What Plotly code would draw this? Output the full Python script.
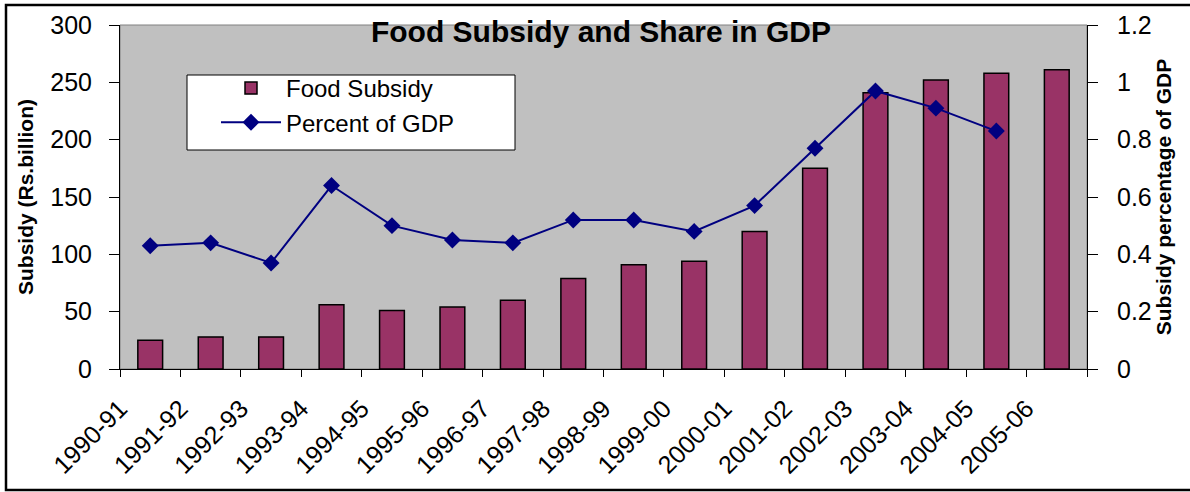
import plotly.graph_objects as go

categories = ["1990-91", "1991-92", "1992-93", "1993-94", "1994-95", "1995-96",
              "1996-97", "1997-98", "1998-99", "1999-00", "2000-01", "2001-02",
              "2002-03", "2003-04", "2004-05", "2005-06"]
food_subsidy = [25, 28, 28, 56, 51, 54, 60, 79, 91, 94, 120, 175, 241, 252, 258, 261]
percent_gdp = [0.43, 0.44, 0.37, 0.64, 0.50, 0.45, 0.44, 0.52, 0.52, 0.48, 0.57,
               0.77, 0.97, 0.91, 0.83]
left_ticks = [0, 50, 100, 150, 200, 250, 300]
right_ticks = [0, 0.2, 0.4, 0.6, 0.8, 1.0, 1.2]
right_tick_text = ["0", "0.2", "0.4", "0.6", "0.8", "1", "1.2"]

FONT = "Liberation Sans, Arial, sans-serif"
n = len(categories)
pos = list(range(n))
# category labels sit on the category boundaries (as in the original chart)
boundary_vals = [i - 0.5 for i in range(n + 1)]
boundary_text = categories + [""]

fig = go.Figure()
fig.add_trace(go.Bar(
    x=pos, y=food_subsidy, name="Food Subsidy", width=0.41,
    marker=dict(color="#993366", line=dict(color="black", width=1.5)),
    legendgroup="a", yaxis="y"))
fig.add_trace(go.Scatter(
    x=pos[:len(percent_gdp)], y=percent_gdp, name="Percent of GDP",
    mode="lines+markers", line=dict(color="#000080", width=2),
    marker=dict(symbol="diamond", size=13, color="#000080"),
    legendgroup="b", yaxis="y2"))

PW, PH = 967, 344  # plot area size in px
L, T = 120, 25
xr = [-0.5, n - 0.5]
fig.update_layout(
    width=1190, height=492, autosize=False,
    margin=dict(l=L, r=1190 - L - PW, t=T, b=492 - T - PH, pad=0),
    paper_bgcolor="white", plot_bgcolor="#c0c0c0",
    font=dict(family=FONT, color="black"),
    title=dict(text="<b>Food Subsidy and Share in GDP</b>", x=601 / 1190, xanchor="center",
               y=1 - 31 / 492, yanchor="middle", font=dict(size=30, family=FONT)),
    showlegend=True,
    legend=dict(x=(216 - L) / PW, y=(T + PH - 66) / PH, xanchor="left", yanchor="top",
                bgcolor="rgba(0,0,0,0)", borderwidth=0, font=dict(size=24, family=FONT),
                itemwidth=60, tracegroupgap=15, traceorder="normal"),
    xaxis=dict(range=xr, tickmode="array", tickvals=boundary_vals, ticktext=boundary_text,
               tickangle=-45, ticks="outside", ticklen=7, tickcolor="black", tickwidth=1,
               showline=True, linecolor="black", linewidth=1, showgrid=False, zeroline=False,
               tickfont=dict(size=25, family=FONT), ticklabelstandoff=7, automargin=False),
    xaxis2=dict(range=xr, overlaying="x", anchor="y", side="bottom", tickmode="array",
                tickvals=boundary_vals, ticks="inside", ticklen=7, tickcolor="black",
                showticklabels=False, showline=False, showgrid=False, zeroline=False),
    yaxis=dict(range=[0, 300], tickmode="array", tickvals=left_ticks, ticks="outside",
               ticklen=10, tickcolor="black", showline=True, linecolor="black", linewidth=1,
               showgrid=False, zeroline=False, tickfont=dict(size=25, family=FONT),
               ticklabelstandoff=12, automargin=False,
               title=dict(text="<b>Subsidy (Rs.billion)</b>", font=dict(size=21, family=FONT),
                          standoff=10)),
    yaxis2=dict(range=[0, 1.2], overlaying="y", side="right", anchor="x", tickmode="array",
                tickvals=right_ticks, ticktext=right_tick_text, ticks="outside", ticklen=10,
                tickcolor="black", showline=True, linecolor="black", linewidth=1,
                showgrid=False, zeroline=False, tickfont=dict(size=25, family=FONT),
                ticklabelstandoff=14, automargin=False,
                title=dict(text="<b>Subsidy percentage of GDP</b>",
                           font=dict(size=21, family=FONT), standoff=4)),
    yaxis3=dict(range=[0, 300], overlaying="y", side="left", anchor="x", tickmode="array",
                tickvals=left_ticks, ticks="inside", ticklen=8, tickcolor="black",
                showticklabels=False, showline=False, showgrid=False, zeroline=False),
    yaxis4=dict(range=[0, 1.2], overlaying="y", side="right", anchor="x", tickmode="array",
                tickvals=right_ticks, ticks="inside", ticklen=9, tickcolor="black",
                showticklabels=False, showline=False, showgrid=False, zeroline=False),
    shapes=[
        # plot-area border
        dict(type="rect", xref="paper", yref="paper", x0=0, x1=1, y0=0, y1=1,
             line=dict(color="#808080", width=1), layer="below"),
        # legend box
        dict(type="rect", xref="paper", yref="paper",
             x0=(187 - L) / PW, x1=(515 - L) / PW,
             y0=(T + PH - 150) / PH, y1=(T + PH - 75) / PH,
             fillcolor="white", line=dict(color="black", width=1), layer="above"),
        # outer chart border
        dict(type="rect", xref="paper", yref="paper",
             x0=(6 - L) / PW, x1=(1230 - L) / PW,
             y0=(T + PH - 490) / PH, y1=(T + PH - 5) / PH,
             line=dict(color="black", width=2.5), layer="above"),
    ],
)

fig.write_html("out.html", config={"displayModeBar": False},
               post_script="document.body.style.margin='0';document.body.style.overflow='hidden';")
